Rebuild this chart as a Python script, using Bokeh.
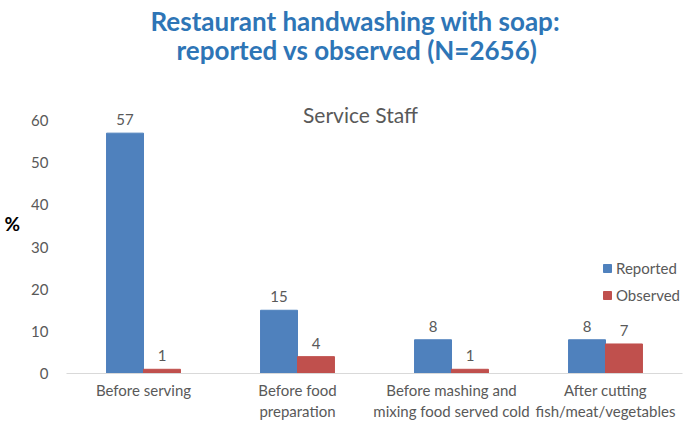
from bokeh.plotting import figure
from bokeh.models import (ColumnDataSource, FactorRange, Range1d, Label, Legend,
                          LegendItem, FixedTicker, Title)
from bokeh.transform import dodge
from bokeh.core.properties import value
from bokeh.embed import file_html
from bokeh.resources import INLINE

categories = ["Before serving", "Before food\npreparation",
              "Before mashing and\nmixing food served cold",
              "After cutting\nfish/meat/vegetables"]
reported = [57, 15, 8, 8]
observed = [1, 4, 1, 7]
series = ["Reported", "Observed"]
y_ticks = [0, 10, 20, 30, 40, 50, 60]
title_lines = ["Restaurant handwashing with soap:", "reported vs observed (N=2656)"]
subtitle = "Service Staff"
y_label = "%"

FONT = "Lato"
GRAY = "#595959"
BLUE = "#4F81BD"
RED = "#C0504D"
TITLE_BLUE = "#2E75B6"

src = ColumnDataSource(dict(
    cat=categories, reported=reported, observed=observed,
    rep_lbl=[str(v) for v in reported], obs_lbl=[str(v) for v in observed],
))

W, H = 685, 424
top_b, bot_b = 73, 51
frame_h = H - top_b - bot_b
y_end = 60 * frame_h / 253.0

p = figure(width=W, height=H, x_range=FactorRange(factors=categories),
           y_range=Range1d(0, y_end), output_backend="svg", toolbar_location=None,
           min_border_left=66, min_border_right=3, min_border_top=top_b,
           min_border_bottom=bot_b)
p.outline_line_color = None
p.xgrid.grid_line_color = None
p.ygrid.grid_line_color = None

# title: two lines (the added Title sits between p.title and the plot)
p.title = Title(text=title_lines[0], align="left", offset=84, standoff=-25,
                text_font=FONT, text_font_style="bold", text_font_size="26px",
                text_color=TITLE_BLUE)
p.add_layout(Title(text=title_lines[1], align="left", offset=110, standoff=15,
                   text_font=FONT, text_font_style="bold", text_font_size="26px",
                   text_color=TITLE_BLUE), "above")

r1 = p.vbar(x=dodge("cat", -0.12, range=p.x_range), top="reported", width=0.24,
            source=src, fill_color=BLUE, line_color=BLUE)
r2 = p.vbar(x=dodge("cat", 0.12, range=p.x_range), top="observed", width=0.24,
            source=src, fill_color=RED, line_color=RED)

for col, lbl, off in (("reported", "rep_lbl", -0.12), ("observed", "obs_lbl", 0.12)):
    p.text(x=dodge("cat", off, range=p.x_range), y=col, text=lbl, source=src,
           text_align="center", text_baseline="bottom", y_offset=-8,
           text_font=value(FONT), text_font_size="15px", text_color=GRAY)

p.yaxis.ticker = FixedTicker(ticks=y_ticks)
p.yaxis.axis_label = y_label
p.yaxis.axis_label_orientation = "horizontal"
p.yaxis.axis_label_standoff = 8
p.yaxis.axis_label_text_font = FONT
p.yaxis.axis_label_text_font_style = "bold"
p.yaxis.axis_label_text_font_size = "19px"
p.yaxis.axis_label_text_color = "black"
p.yaxis.axis_line_color = None
p.yaxis.major_tick_line_color = None
p.yaxis.minor_tick_line_color = None
p.yaxis.major_label_standoff = 12
p.yaxis.major_label_text_font = FONT
p.yaxis.major_label_text_font_size = "15px"
p.yaxis.major_label_text_color = GRAY

p.xaxis.axis_label = None
p.xaxis.axis_line_color = "#D9D9D9"
p.xaxis.major_tick_line_color = None
p.xaxis.minor_tick_line_color = None
p.xaxis.major_label_standoff = 1
p.xaxis.major_label_text_font = FONT
p.xaxis.major_label_text_font_size = "15px"
p.xaxis.major_label_text_color = GRAY

legend = Legend(items=[LegendItem(label=series[0], renderers=[r1]),
                       LegendItem(label=series[1], renderers=[r2])],
                location=(536, 69), glyph_width=10, glyph_height=10,
                label_height=14, spacing=9, padding=0, margin=0,
                label_standoff=4, border_line_color=None,
                background_fill_alpha=0, label_text_font=FONT,
                label_text_font_size="15px", label_text_color=GRAY)
p.add_layout(legend)

p.add_layout(Label(x=294, y=259, x_units="screen", y_units="screen", text=subtitle,
                   text_align="center", text_baseline="middle", text_font=FONT,
                   text_font_size="21px", text_color=GRAY))

open("out.html", "w").write(file_html(p, INLINE))
